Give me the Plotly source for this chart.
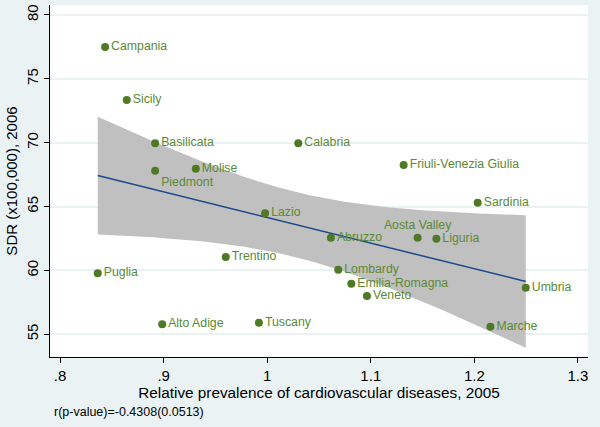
import numpy as np
import plotly.graph_objects as go

regions = ["Campania", "Sicily", "Basilicata", "Piedmont", "Molise", "Calabria",
           "Friuli-Venezia Giulia", "Sardinia", "Lazio", "Trentino", "Puglia",
           "Alto Adige", "Tuscany", "Abruzzo", "Aosta Valley", "Liguria",
           "Lombardy", "Emilia-Romagna", "Veneto", "Umbria", "Marche"]
prevalence = [0.8435, 0.8644, 0.8918, 0.8918, 0.9311, 1.030,
              1.1317, 1.2032, 0.998, 0.960, 0.8364,
              0.8986, 0.992, 1.0615, 1.1452, 1.1633,
              1.0686, 1.0812, 1.0963, 1.2496, 1.2155]
sdr = [77.49, 73.34, 69.95, 67.81, 67.96, 69.95,
       68.25, 65.30, 64.47, 61.05, 59.77,
       55.78, 55.90, 62.56, 62.56, 62.48,
       60.06, 58.96, 58.00, 58.65, 55.59]
label_pos = ["middle right"] * len(regions)
label_pos[regions.index("Piedmont")] = "bottom right"
label_pos[regions.index("Aosta Valley")] = "top center"

x_ticks = [0.8, 0.9, 1.0, 1.1, 1.2, 1.3]
x_tick_text = [".8", ".9", "1", "1.1", "1.2", "1.3"]
y_ticks = [55, 60, 65, 70, 75, 80]
note = "r(p-value)=-0.4308(0.0513)"

x = np.array(prevalence)
y = np.array(sdr)
n = len(x)
b, a = np.polyfit(x, y, 1)
xs = np.linspace(x.min(), x.max(), 100)
fit = a + b * xs
resid = y - (a + b * x)
s = np.sqrt(np.sum(resid ** 2) / (n - 2))
sxx = np.sum((x - x.mean()) ** 2)
tcrit = 2.093
half = tcrit * s * np.sqrt(1 / n + (xs - x.mean()) ** 2 / sxx)

green = "#4E7A26"
label_green = "#5C8A33"

fig = go.Figure()
fig.add_trace(go.Scatter(
    x=np.concatenate([xs, xs[::-1]]),
    y=np.concatenate([fit + half, (fit - half)[::-1]]),
    fill="toself", fillcolor="#C0C0C0", line=dict(width=0),
    mode="lines", hoverinfo="skip", showlegend=False))
fig.add_trace(go.Scatter(x=xs, y=fit, mode="lines",
                         line=dict(color="#1A4A8A", width=1.5), showlegend=False))
fig.add_trace(go.Scatter(
    x=prevalence, y=sdr, mode="markers+text", text=regions,
    textposition=label_pos,
    textfont=dict(family="Liberation Sans, Arial", size=12.3, color=label_green),
    marker=dict(color=green, size=8), showlegend=False))

fig.update_layout(
    width=600, height=427,
    margin=dict(l=50, r=12, t=5, b=70),
    paper_bgcolor="#EAF2F3", plot_bgcolor="white",
    font=dict(family="Liberation Sans, Arial", color="black"),
    xaxis=dict(range=[0.7903, 1.3097], tickvals=x_ticks, ticktext=x_tick_text,
               automargin=False,
               showgrid=False, zeroline=False, showline=True, linecolor="black",
               linewidth=1, ticks="outside", ticklen=5, tickcolor="black",
               tickfont=dict(size=15),
               title=dict(text="Relative prevalence of cardiovascular diseases, 2005",
                          font=dict(size=15.3), standoff=0)),
    yaxis=dict(range=[53.22, 80.78], tickvals=y_ticks, tickangle=-90,
               automargin=False,
               showgrid=True, gridcolor="#EAF2F3", gridwidth=1.5,
               zeroline=False, showline=True, linecolor="black",
               linewidth=1, ticks="outside", ticklen=5, tickcolor="black",
               tickfont=dict(size=15),
               title=dict(text="SDR (x100,000), 2006", font=dict(size=15), standoff=2)),
    annotations=[dict(text=note, xref="paper", yref="paper",
                      x=(52 - 50) / 538, y=-(412 - 357) / 352,
                      xanchor="left", yanchor="middle", showarrow=False,
                      font=dict(size=12.5, color="black"))],
)
fig.write_html("out.html", config={"displayModeBar": False},
               post_script="document.body.style.margin='0';document.body.style.background='#EAF2F3';")
